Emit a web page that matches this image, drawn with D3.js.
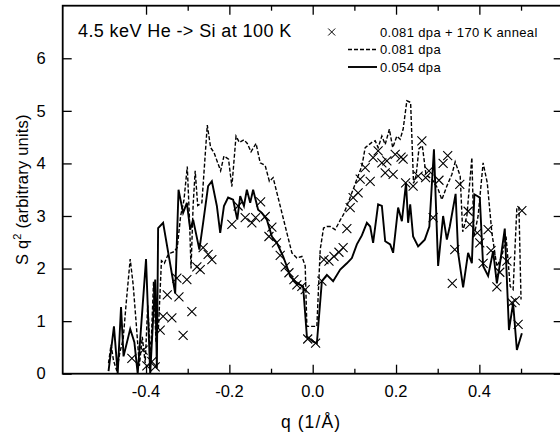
<!DOCTYPE html>
<html>
<head>
<meta charset="utf-8">
<script src="https://cdn.jsdelivr.net/npm/d3@7"></script>
<style>
  body { margin: 0; background: #fff; }
  text { font-family: "Liberation Sans", Arial, sans-serif; fill: #000; }
</style>
</head>
<body>
<script>
//series: 0.081 dpa (dashed line)
var qDash = [-0.490,-0.484,-0.478,-0.470,-0.463,-0.455,-0.447,-0.438,-0.431,-0.424,-0.416,-0.409,-0.402,-0.396,-0.389,-0.382,-0.376,-0.370,-0.363,-0.356,-0.348,-0.340,-0.333,-0.325,-0.317,-0.309,-0.301,-0.296,-0.292,-0.287,-0.282,-0.276,-0.266,-0.253,-0.245,-0.237,-0.221,-0.213,-0.202,-0.194,-0.184,-0.176,-0.165,-0.157,-0.148,-0.136,-0.126,-0.114,-0.104,-0.095,-0.078,-0.062,-0.050,-0.038,-0.026,-0.018,-0.014,0.010,0.018,0.026,0.034,0.042,0.054,0.066,0.074,0.085,0.094,0.106,0.118,0.126,0.142,0.150,0.157,0.166,0.174,0.184,0.192,0.202,0.210,0.217,0.226,0.235,0.242,0.248,0.255,0.263,0.272,0.283,0.290,0.301,0.310,0.322,0.334,0.342,0.354,0.360,0.370,0.382,0.387,0.397,0.409,0.419,0.430,0.442,0.454,0.464,0.474,0.481,0.490,0.495,0.500];
var vDash = [0.20,0.55,0.25,0.05,0.40,0.65,1.40,2.18,1.70,1.00,0.15,0.70,0.20,1.30,0.30,1.75,0.60,0.90,2.15,2.10,2.25,2.30,2.32,2.40,3.00,3.30,3.94,3.00,2.00,3.20,3.86,3.20,3.25,4.73,4.30,4.21,3.86,4.14,4.08,3.56,4.52,4.40,4.45,4.38,4.22,4.38,4.01,3.96,3.66,3.73,3.19,2.68,2.30,2.20,2.23,2.05,0.90,0.90,2.36,2.77,2.80,2.80,2.74,2.92,3.03,3.25,3.44,3.70,3.95,4.30,4.40,4.43,4.30,4.52,4.36,4.65,4.30,4.52,4.46,4.65,5.19,5.16,3.62,3.76,4.28,4.34,3.78,3.72,3.66,3.51,3.31,3.57,3.79,4.03,3.76,2.70,3.00,4.11,2.61,3.00,4.01,3.63,2.68,2.04,2.23,2.61,1.66,1.60,3.16,3.16,1.41];

//series: 0.054 dpa (solid line)
var qSolid = [-0.490,-0.477,-0.468,-0.460,-0.454,-0.438,-0.428,-0.420,-0.400,-0.390,-0.378,-0.374,-0.371,-0.359,-0.330,-0.322,-0.311,-0.302,-0.294,-0.287,-0.272,-0.263,-0.251,-0.242,-0.230,-0.222,-0.213,-0.203,-0.191,-0.181,-0.174,-0.165,-0.158,-0.150,-0.143,-0.131,-0.122,-0.110,-0.098,-0.086,-0.071,-0.062,-0.054,-0.038,-0.023,-0.014,0.001,0.010,0.022,0.034,0.049,0.066,0.082,0.094,0.106,0.118,0.130,0.138,0.145,0.157,0.166,0.174,0.186,0.193,0.205,0.214,0.224,0.229,0.234,0.241,0.253,0.269,0.280,0.291,0.301,0.313,0.322,0.329,0.343,0.349,0.361,0.373,0.382,0.388,0.395,0.401,0.409,0.421,0.433,0.442,0.449,0.461,0.471,0.481,0.490,0.502];
var vSolid = [0.05,0.90,0.00,1.27,0.33,0.85,0.60,0.00,2.18,0.00,1.79,0.10,2.77,2.87,1.53,3.50,3.06,3.25,2.74,2.93,2.36,2.87,3.57,3.66,3.19,2.68,3.19,3.35,3.31,2.93,3.38,3.19,3.50,3.25,3.50,3.12,3.06,2.93,2.61,2.49,2.23,2.04,1.85,1.72,1.66,0.71,0.61,0.58,1.76,1.88,1.76,1.98,2.10,2.20,2.46,2.63,2.87,2.80,2.49,3.22,3.19,2.52,2.46,2.30,3.16,2.90,3.63,2.87,3.22,2.61,2.42,2.55,2.80,4.27,2.05,3.00,2.55,2.80,3.42,2.30,1.64,2.30,2.10,3.41,3.38,3.35,2.05,1.86,2.33,1.72,2.07,2.76,0.83,1.34,0.45,0.77];

//series: 0.081 dpa + 170 K anneal (crosses)
var qAnneal = [-0.434,-0.407,-0.398,-0.386,-0.378,-0.366,-0.359,-0.349,-0.338,-0.326,-0.321,-0.311,-0.302,-0.290,-0.278,-0.270,-0.263,-0.251,-0.242,-0.194,-0.179,-0.162,-0.146,-0.137,-0.125,-0.114,-0.105,-0.098,-0.087,-0.078,-0.066,-0.057,-0.045,-0.038,-0.026,-0.018,-0.012,0.007,0.022,0.027,0.039,0.051,0.063,0.073,0.082,0.090,0.097,0.109,0.114,0.126,0.138,0.145,0.157,0.166,0.174,0.178,0.193,0.198,0.212,0.217,0.223,0.241,0.253,0.262,0.271,0.279,0.289,0.303,0.313,0.324,0.335,0.341,0.353,0.373,0.377,0.395,0.401,0.409,0.421,0.428,0.442,0.449,0.466,0.478,0.486,0.493,0.502];
var vAnneal = [0.29,0.45,0.15,0.23,0.13,0.83,1.09,1.50,1.06,1.82,1.46,0.73,1.79,1.18,2.03,1.98,2.40,2.27,2.17,2.84,3.19,2.97,2.87,2.97,3.27,2.99,2.61,2.79,2.49,2.25,2.03,1.92,1.79,1.69,1.66,1.60,0.66,0.58,1.76,2.17,2.14,2.23,2.31,2.40,2.76,3.16,3.35,3.44,3.70,3.92,3.66,4.11,4.24,4.01,3.82,4.05,3.79,4.17,4.12,4.08,3.63,3.57,3.76,4.43,3.73,3.86,2.97,3.68,4.00,4.15,1.72,2.36,3.60,3.09,2.84,2.68,2.49,2.10,2.74,2.34,1.65,1.93,2.14,1.35,1.39,0.94,3.10];

//axis ticks and labels
var xTickValues = [-0.4,-0.3,-0.2,-0.1,0.0,0.1,0.2,0.3,0.4,0.5];
var xTickLabels = ["-0.4","-0.2","0.0","0.2","0.4"];
var yTickValues = [0,1,2,3,4,5,6];

var legendLabels = ["0.081 dpa + 170 K anneal","0.081 dpa","0.054 dpa"];
var titleText = "4.5 keV He -> Si at 100 K";

(function(){

//frame dimensions
var width = 560,
    height = 438;
var pLeft = 62.7, pRight = 562.7, pTop = 5.7, pBottom = 373.7;

var svg = d3.select("body")
    .append("svg")
    .attr("width", width)
    .attr("height", height);

var x = d3.scaleLinear().domain([-0.6, 0.6]).range([pLeft, pRight]);
var y = d3.scaleLinear().domain([0, 7]).range([pBottom, pTop]);

svg.append("clipPath")
    .attr("id", "plotclip")
    .append("rect")
    .attr("x", pLeft).attr("y", pTop)
    .attr("width", pRight - pLeft).attr("height", pBottom - pTop);

//zip q and value arrays into points
function zip(qs, vs){
    return qs.map(function(q, i){ return [q, vs[i]]; });
}

var line = d3.line()
    .x(function(d){ return x(d[0]); })
    .y(function(d){ return y(d[1]); });

var plot = svg.append("g").attr("clip-path", "url(#plotclip)");

//dashed series
plot.append("path")
    .datum(zip(qDash, vDash))
    .attr("fill", "none")
    .attr("stroke", "#000")
    .attr("stroke-width", 1.4)
    .attr("stroke-dasharray", "4,2")
    .attr("d", line);

//solid series
plot.append("path")
    .datum(zip(qSolid, vSolid))
    .attr("fill", "none")
    .attr("stroke", "#000")
    .attr("stroke-width", 1.9)
    .attr("d", line);

//cross markers
var s = 4.5;
function crossPath(cx, cy){
    return "M" + (cx - s) + "," + (cy - s) + "L" + (cx + s) + "," + (cy + s) +
           "M" + (cx - s) + "," + (cy + s) + "L" + (cx + s) + "," + (cy - s);
}
plot.selectAll(".cross")
    .data(zip(qAnneal, vAnneal))
    .enter()
    .append("path")
    .attr("class", "cross")
    .attr("fill", "none")
    .attr("stroke", "#000")
    .attr("stroke-width", 1.1)
    .attr("d", function(d){ return crossPath(x(d[0]), y(d[1])); });

//axes: ticks drawn inward on all four sides
var majorX = [-0.4,-0.2,0.0,0.2,0.4];
function isMajor(v){
    return majorX.some(function(m){ return Math.abs(m - v) < 1e-9; });
}

var gxb = svg.append("g")
    .attr("transform", "translate(0," + pBottom + ")")
    .call(d3.axisBottom(x).tickValues(xTickValues).tickSizeOuter(0).tickFormat(""));
gxb.selectAll(".tick line")
    .attr("y2", function(d){ return isMajor(d) ? -9 : -5; });

var gxt = svg.append("g")
    .attr("transform", "translate(0," + pTop + ")")
    .call(d3.axisTop(x).tickValues(xTickValues).tickSizeOuter(0).tickFormat(""));
gxt.selectAll(".tick line")
    .attr("y2", function(d){ return isMajor(d) ? 9 : 5; });

var gyl = svg.append("g")
    .attr("transform", "translate(" + pLeft + ",0)")
    .call(d3.axisLeft(y).tickValues(yTickValues).tickSizeInner(-9).tickSizeOuter(0).tickPadding(17)
        .tickFormat(d3.format("d")));

svg.append("g")
    .attr("transform", "translate(" + pRight + ",0)")
    .call(d3.axisRight(y).tickValues(yTickValues).tickSizeInner(-9).tickSizeOuter(0).tickFormat(""));

svg.selectAll(".domain").remove();
svg.selectAll(".tick line").attr("stroke", "#000").attr("stroke-width", 1.3);
gyl.selectAll(".tick text")
    .attr("fill", "#000")
    .style("font-size", "16.5px")
    .style("font-family", "'Liberation Sans', Arial, sans-serif");

//x tick labels
svg.selectAll(".xlab")
    .data(xTickLabels)
    .enter()
    .append("text")
    .attr("class", "xlab")
    .attr("x", function(d){ return x(+d); })
    .attr("y", 396.5)
    .attr("text-anchor", "middle")
    .style("font-size", "16.5px")
    .text(function(d){ return d; });

//frame
svg.append("rect")
    .attr("x", pLeft).attr("y", pTop)
    .attr("width", pRight - pLeft).attr("height", pBottom - pTop)
    .attr("fill", "none")
    .attr("stroke", "#000")
    .attr("stroke-width", 1.8);

//axis titles
svg.append("text")
    .attr("x", 311)
    .attr("y", 428)
    .attr("text-anchor", "middle")
    .style("font-size", "17.5px")
    .style("letter-spacing", "1.1px")
    .text("q (1/\u00c5)");

var yt = svg.append("text")
    .attr("transform", "translate(28," + ((pTop + pBottom) / 2) + ") rotate(-90)")
    .attr("text-anchor", "middle")
    .style("font-size", "16.5px")
    .style("letter-spacing", "0.2px");
yt.append("tspan").text("S q");
yt.append("tspan").attr("dy", -7).style("font-size", "11px").text("2");
yt.append("tspan").attr("dy", 7).text(" (arbitrary units)");

//title
svg.append("text")
    .attr("x", 78)
    .attr("y", 36.5)
    .style("font-size", "18px")
    .style("letter-spacing", "0.4px")
    .text(titleText);

//legend
var legY = [32, 49.5, 67];
var lx = 331.7, ls = 3.5;
svg.append("path")
    .attr("fill", "none").attr("stroke", "#000").attr("stroke-width", 1)
    .attr("d", "M" + (lx - ls) + "," + (legY[0] - ls) + "L" + (lx + ls) + "," + (legY[0] + ls) +
               "M" + (lx - ls) + "," + (legY[0] + ls) + "L" + (lx + ls) + "," + (legY[0] - ls));
svg.append("line")
    .attr("x1", 348).attr("x2", 377).attr("y1", legY[1]).attr("y2", legY[1])
    .attr("stroke", "#000").attr("stroke-width", 1.4).attr("stroke-dasharray", "4,2");
svg.append("line")
    .attr("x1", 348).attr("x2", 377).attr("y1", legY[2]).attr("y2", legY[2])
    .attr("stroke", "#000").attr("stroke-width", 1.9);
svg.selectAll(".leg")
    .data(legendLabels)
    .enter()
    .append("text")
    .attr("class", "leg")
    .attr("x", 380)
    .attr("y", function(d, i){ return legY[i] + 4.5; })
    .style("font-size", "13px")
    .style("letter-spacing", "0.35px")
    .text(function(d){ return d; });

})();
</script>
</body>
</html>
